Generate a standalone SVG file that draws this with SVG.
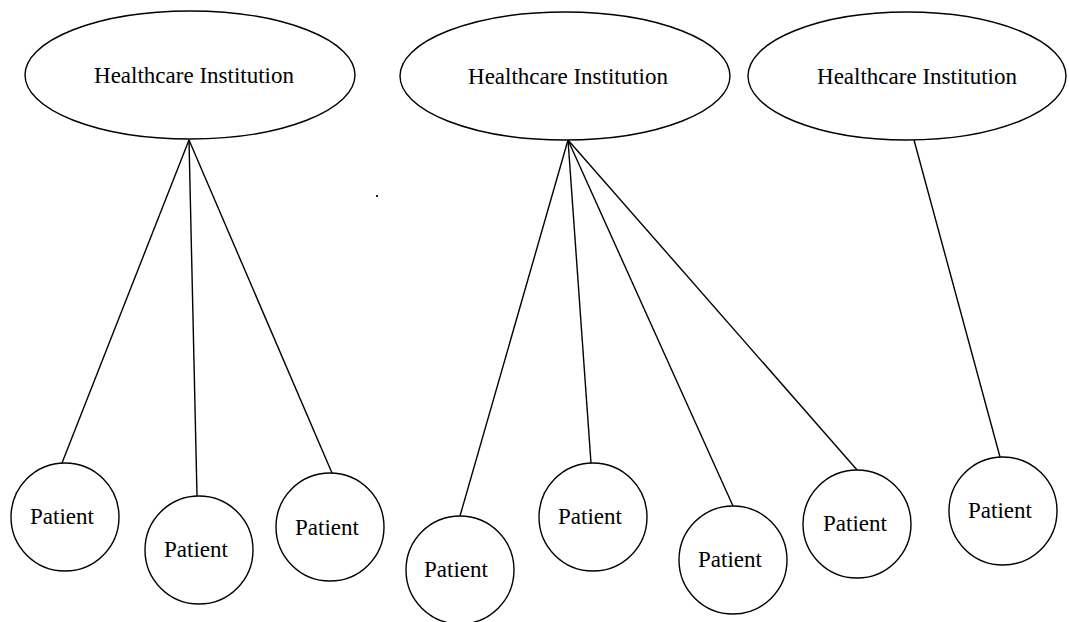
<svg xmlns="http://www.w3.org/2000/svg" width="1069" height="622" viewBox="0 0 1069 622">
<style>
.shape{fill:#fff;stroke:#000;stroke-width:1.4}
.lbl{font-family:"Liberation Serif","Times New Roman",serif;font-size:23px;fill:#000;text-anchor:middle}
.conn line{stroke:#000;stroke-width:1.4}
</style>
<rect width="1069" height="622" fill="#fff"/>
<g id="connectors" class="conn">
<line x1="189" y1="140" x2="62" y2="463"/>
<line x1="189" y1="140" x2="197" y2="496"/>
<line x1="189" y1="140" x2="332" y2="473"/>
<line x1="568" y1="140" x2="460" y2="516"/>
<line x1="568" y1="140" x2="591" y2="463"/>
<line x1="568" y1="140" x2="733" y2="506"/>
<line x1="568" y1="140" x2="858" y2="471"/>
<line x1="914" y1="140" x2="1000" y2="457"/>
</g>
<g id="hc1"><ellipse class="shape" cx="190" cy="75" rx="165" ry="64"/><text class="lbl" x="194" y="83">Healthcare Institution</text></g>
<g id="hc2"><ellipse class="shape" cx="565" cy="76" rx="165" ry="64"/><text class="lbl" x="568" y="84">Healthcare Institution</text></g>
<g id="hc3"><ellipse class="shape" cx="907" cy="76" rx="159" ry="64"/><text class="lbl" x="917" y="84">Healthcare Institution</text></g>
<g id="p1"><circle class="shape" cx="65" cy="517" r="54"/><text class="lbl" x="62" y="524">Patient</text></g>
<g id="p2"><circle class="shape" cx="199" cy="550" r="54"/><text class="lbl" x="196" y="557">Patient</text></g>
<g id="p3"><circle class="shape" cx="330" cy="527" r="54"/><text class="lbl" x="327" y="535">Patient</text></g>
<g id="p4"><circle class="shape" cx="460" cy="570" r="54"/><text class="lbl" x="456" y="577">Patient</text></g>
<g id="p5"><circle class="shape" cx="593" cy="517" r="54"/><text class="lbl" x="590" y="524">Patient</text></g>
<g id="p6"><circle class="shape" cx="733" cy="560" r="54"/><text class="lbl" x="730" y="567">Patient</text></g>
<g id="p7"><circle class="shape" cx="857" cy="524" r="54"/><text class="lbl" x="855" y="531">Patient</text></g>
<g id="p8"><circle class="shape" cx="1003" cy="511" r="54"/><text class="lbl" x="1000" y="518">Patient</text></g>
<rect x="376" y="195" width="2" height="2" fill="#222"/>
</svg>
